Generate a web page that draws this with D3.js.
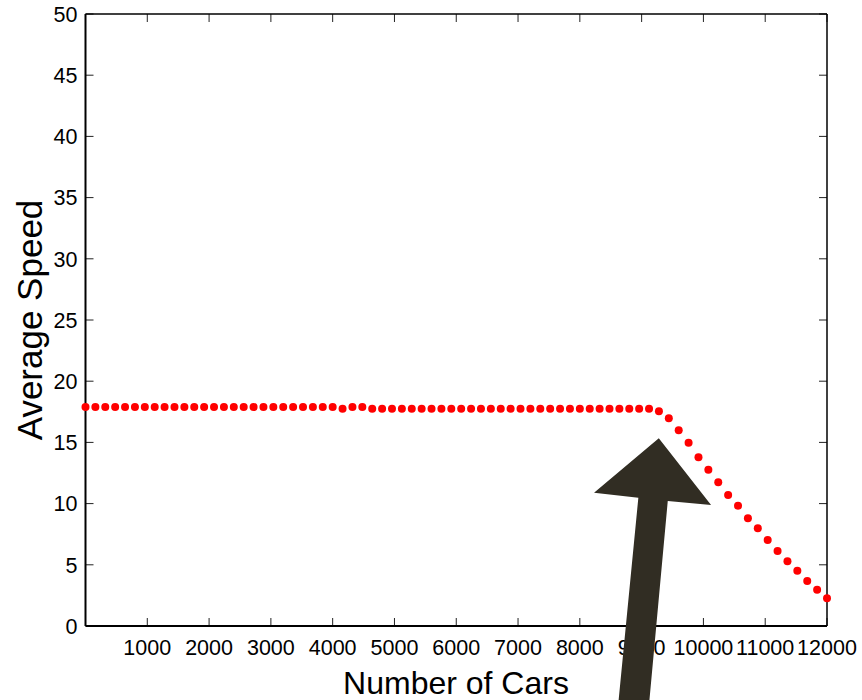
<!DOCTYPE html>
<html>
<head>
<meta charset="utf-8">
<script src="https://cdn.jsdelivr.net/npm/d3@7"></script>
<style>
  body { margin: 0; background: #fff; }
  svg { display: block; font-family: "Liberation Sans", Arial, sans-serif; }
</style>
</head>
<body>
<svg id="chart" width="862" height="700"></svg>
<script>
// number of cars simulated (one dot each)
const carCounts = [
  0, 160, 320, 480, 640, 800, 960, 1120, 1280, 1440,
  1600, 1760, 1920, 2080, 2240, 2400, 2560, 2720, 2880, 3040,
  3200, 3360, 3520, 3680, 3840, 4000, 4160, 4320, 4480, 4640,
  4800, 4960, 5120, 5280, 5440, 5600, 5760, 5920, 6080, 6240,
  6400, 6560, 6720, 6880, 7040, 7200, 7360, 7520, 7680, 7840,
  8000, 8160, 8320, 8480, 8640, 8800, 8960, 9120, 9280, 9440,
  9600, 9760, 9920, 10080, 10240, 10400, 10560, 10720, 10880, 11040,
  11200, 11360, 11520, 11680, 11840, 12000
];

// average speed
const avgSpeed = [
  17.89, 17.89, 17.89, 17.89, 17.89, 17.89, 17.89, 17.89, 17.89, 17.89,
  17.89, 17.89, 17.89, 17.89, 17.89, 17.89, 17.89, 17.89, 17.89, 17.89,
  17.89, 17.89, 17.89, 17.89, 17.89, 17.89, 17.75, 17.89, 17.89, 17.75,
  17.75, 17.75, 17.75, 17.75, 17.75, 17.75, 17.75, 17.75, 17.75, 17.75,
  17.75, 17.75, 17.75, 17.75, 17.75, 17.75, 17.75, 17.75, 17.75, 17.75,
  17.75, 17.75, 17.75, 17.75, 17.75, 17.75, 17.75, 17.75, 17.54, 16.97,
  15.99, 14.98, 13.78, 12.77, 11.74, 10.70, 9.83, 8.80, 7.98, 7.03,
  6.13, 5.29, 4.52, 3.68, 2.97, 2.26
];

const xTicks = [1000, 2000, 3000, 4000, 5000, 6000, 7000, 8000, 9000, 10000, 11000, 12000];
const yTicks = [0, 5, 10, 15, 20, 25, 30, 35, 40, 45, 50];

// annotation arrow outline, in data units
const arrowX = [9278, 10124, 9423, 9100, 8600, 8947, 8230];
const arrowY = [15.34, 9.89, 10.21, -7.5, -7.5, 10.48, 10.89];

const plotL = 85.5, plotR = 827, plotT = 14, plotB = 626;
const tickLen = 8;

const svg = d3.select("#chart");
const x = d3.scaleLinear().domain([0, 12000]).range([plotL, plotR]);
const y = d3.scaleLinear().domain([0, 50]).range([plotB, plotT]);

// ticks, all pointing inward
const tickG = svg.append("g").attr("stroke", "#222").attr("stroke-width", 1);
xTicks.forEach(t => {
  tickG.append("line").attr("x1", x(t)).attr("x2", x(t)).attr("y1", plotB).attr("y2", plotB - tickLen);
  tickG.append("line").attr("x1", x(t)).attr("x2", x(t)).attr("y1", plotT).attr("y2", plotT + tickLen);
});
yTicks.forEach(t => {
  tickG.append("line").attr("x1", plotL).attr("x2", plotL + tickLen).attr("y1", y(t)).attr("y2", y(t));
  tickG.append("line").attr("x1", plotR).attr("x2", plotR - tickLen).attr("y1", y(t)).attr("y2", y(t));
});

// box
svg.append("line").attr("x1", plotL).attr("x2", plotR).attr("y1", plotT).attr("y2", plotT)
  .attr("stroke", "#000").attr("stroke-width", 1.5);
svg.append("line").attr("x1", plotR).attr("x2", plotR).attr("y1", plotT).attr("y2", plotB)
  .attr("stroke", "#000").attr("stroke-width", 1.5);
svg.append("line").attr("x1", plotL).attr("x2", plotR).attr("y1", plotB).attr("y2", plotB)
  .attr("stroke", "#000").attr("stroke-width", 2);
svg.append("line").attr("x1", plotL).attr("x2", plotL).attr("y1", plotT).attr("y2", plotB)
  .attr("stroke", "#000").attr("stroke-width", 2);

// tick labels
svg.append("g").selectAll("text").data(xTicks).join("text")
  .attr("x", d => x(d)).attr("y", 655)
  .attr("text-anchor", "middle").attr("font-size", 21.5).attr("fill", "#000")
  .text(d => d);
svg.append("g").selectAll("text").data(yTicks).join("text")
  .attr("x", plotL - 8).attr("y", d => y(d)).attr("dy", "0.36em")
  .attr("text-anchor", "end").attr("font-size", 21.5).attr("fill", "#000")
  .text(d => d);

// axis titles
svg.append("text").attr("x", 456).attr("y", 694)
  .attr("text-anchor", "middle").attr("font-size", 32).text("Number of Cars");
svg.append("text").attr("transform", "translate(41.5,320) rotate(-90)")
  .attr("text-anchor", "middle").attr("font-size", 35).text("Average Speed");

// data dots
svg.append("g").selectAll("circle").data(carCounts).join("circle")
  .attr("cx", d => x(d))
  .attr("cy", (d, i) => y(avgSpeed[i]))
  .attr("r", 4)
  .attr("fill", "#ff0000");

// arrow annotation
svg.append("polygon")
  .attr("points", arrowX.map((d, i) => x(d) + "," + y(arrowY[i])).join(" "))
  .attr("fill", "#312d23");
</script>
</body>
</html>
